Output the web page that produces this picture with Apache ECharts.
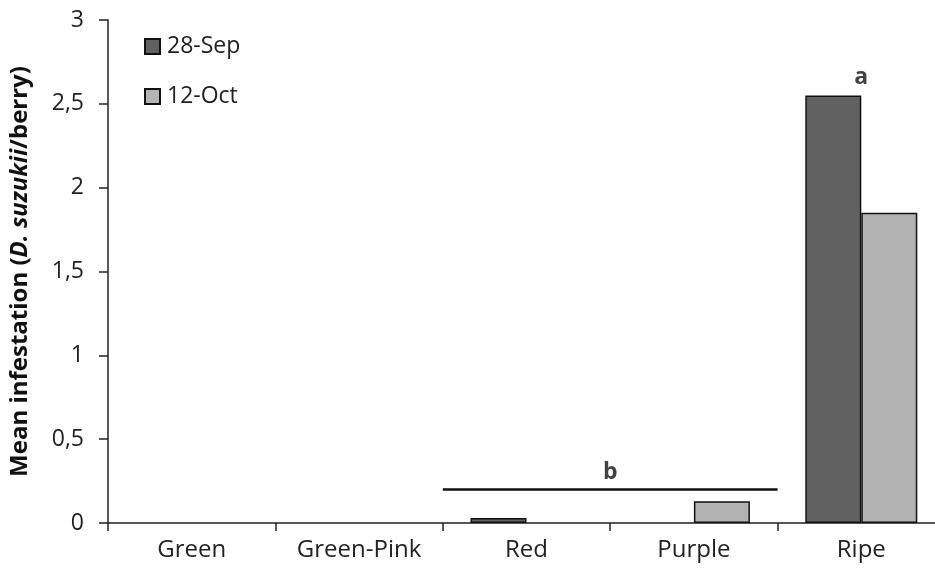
<!DOCTYPE html>
<html><head><meta charset="utf-8">
<script src="https://cdn.jsdelivr.net/npm/echarts@6/dist/echarts.min.js"></script>
<style>html,body{margin:0;padding:0;background:#fff;overflow:hidden}#c{width:935px;height:573px}</style>
</head><body><div id="c"></div>
<script>
const categories = ['Green', 'Green-Pink', 'Red', 'Purple', 'Ripe'];
const sep28 = [0, 0, 0.03, 0, 2.55];
const oct12 = [0, 0, 0, 0.13, 1.85];
const yTicks = [0, 0.5, 1, 1.5, 2, 2.5, 3];
const groupLine = [[2, 0.2], [4, 0.2]];
const groupLabel = [[3, 0.2, 'b'], [4.5, 2.55, 'a']];

const chart = echarts.init(document.getElementById('c'));
const font = 'Open Sans';
const noZero = arr => arr.map(v => v === 0 ? '-' : v);
chart.setOption({
  animation: false,
  textStyle: { fontFamily: font },
  legend: {
    orient: 'vertical', left: 139, top: 30, itemWidth: 15, itemHeight: 15, itemGap: 27,
    icon: 'rect',
    textStyle: { fontSize: 23, color: '#222', fontFamily: font, padding: [0, 0, 0, 2] },
    data: ['28-Sep', '12-Oct']
  },
  grid: { left: 108, width: 837, top: 20, bottom: 50, containLabel: false, outerBoundsMode: 'none' },
  xAxis: [{
    type: 'category', data: categories,
    axisLine: { lineStyle: { color: '#222', width: 1.5 } },
    axisTick: { show: true, length: 8, lineStyle: { color: '#222', width: 1.5 } },
    axisLabel: { fontSize: 24, color: '#222', margin: 15, fontFamily: font }
  }, {
    type: 'value', min: 0, max: 5, show: false
  }],
  yAxis: {
    type: 'value', min: 0, max: 3, interval: 0.5,
    axisLine: { show: true, lineStyle: { color: '#222', width: 1.5 } },
    axisTick: { show: true, length: 9, lineStyle: { color: '#222', width: 1.5 } },
    splitLine: { show: false },
    axisLabel: {
      fontSize: 23, color: '#222', margin: 24, fontFamily: font,
      formatter: v => yTicks.includes(v) ? String(v).replace('.', ',') : ''
    },
    name: '{b|Mean infestation (}{bi|D. suzukii}{b|/berry)}',
    nameLocation: 'middle', nameGap: 76, nameRotate: 90,
    nameTextStyle: {
      rich: {
        b: { fontSize: 24, fontWeight: 'bold', color: '#111', fontFamily: font },
        bi: { fontSize: 24, fontWeight: 'bold', fontStyle: 'italic', color: '#111', fontFamily: font }
      }
    }
  },
  series: [{
    name: '28-Sep', type: 'bar', data: noZero(sep28), barWidth: 56, barGap: '0%',
    itemStyle: { color: '#616161', borderColor: '#111', borderWidth: 1.5 }
  }, {
    name: '12-Oct', type: 'bar', data: noZero(oct12), barWidth: 56, barGap: '0%',
    itemStyle: { color: '#b3b3b3', borderColor: '#111', borderWidth: 1.5 }
  }, {
    type: 'line', xAxisIndex: 1, data: groupLine, symbol: 'none',
    lineStyle: { color: '#111', width: 2.5 }, silent: true
  }, {
    type: 'scatter', xAxisIndex: 1, data: groupLabel, symbolSize: 0, silent: true,
    label: {
      show: true, position: 'top', distance: 6, formatter: p => p.data[2],
      fontSize: 23, fontWeight: 'bold', color: '#111', fontFamily: font
    }
  }]
});
</script></body></html>
